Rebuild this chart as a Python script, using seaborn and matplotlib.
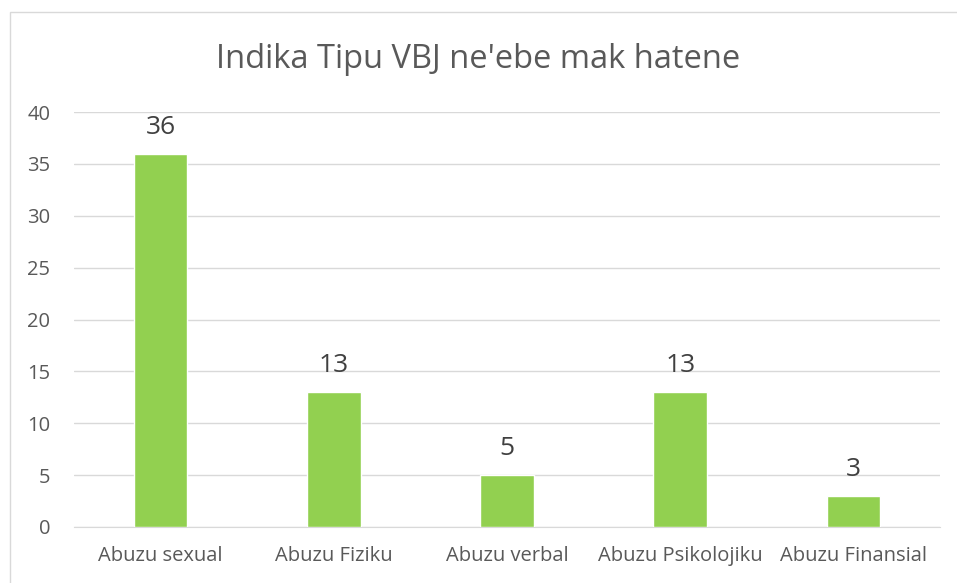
import matplotlib
matplotlib.use("Agg")
import matplotlib.pyplot as plt
import seaborn as sns
import pandas as pd
from matplotlib.patches import Rectangle

# data
categories = ["Abuzu sexual", "Abuzu Fiziku", "Abuzu verbal", "Abuzu Psikolojiku", "Abuzu Finansial"]
values = [36, 13, 5, 13, 3]

df = pd.DataFrame({"tipu": categories, "total": values})

sns.set_style("white")
plt.rcParams["font.family"] = ["Open Sans", "DejaVu Sans"]

fig = plt.figure(figsize=(9.57, 5.83), dpi=100)
ax = fig.add_axes([74 / 957, 1 - 527 / 583, (940 - 74) / 957, (527 - 112) / 583])

sns.barplot(data=df, x="tipu", y="total", color="#92D050", width=0.31,
            saturation=1, ax=ax, zorder=3)

ax.set_ylim(0, 40)
ax.set_yticks(range(0, 41, 5))
ax.set_xlim(-0.5, len(categories) - 0.5)
ax.yaxis.grid(True, color="#D9D9D9", linewidth=1, zorder=0)
ax.set_axisbelow(True)
for s in ["top", "right", "left"]:
    ax.spines[s].set_visible(False)
ax.spines["bottom"].set_color("#D9D9D9")
ax.tick_params(axis="both", length=0, labelsize=14.5, labelcolor="#595959")
ax.tick_params(axis="y", pad=17)
ax.tick_params(axis="x", pad=14)
ax.set_xlabel("")
ax.set_ylabel("")

for cont in ax.containers:
    ax.bar_label(cont, labels=[str(v) for v in values], padding=10,
                 fontsize=19, color="#404040")

fig.text(0.5, 1 - 60 / 583, "Indika Tipu VBJ ne'ebe mak hatene", ha="center",
         va="center", fontsize=23.5, color="#595959")

fig.patches.append(Rectangle((10 / 957, -0.01), 1.0, 1 - 12 / 583 + 0.01,
                             transform=fig.transFigure, fill=False,
                             edgecolor="#D9D9D9", linewidth=1))

fig.savefig("out.png", dpi=100)
